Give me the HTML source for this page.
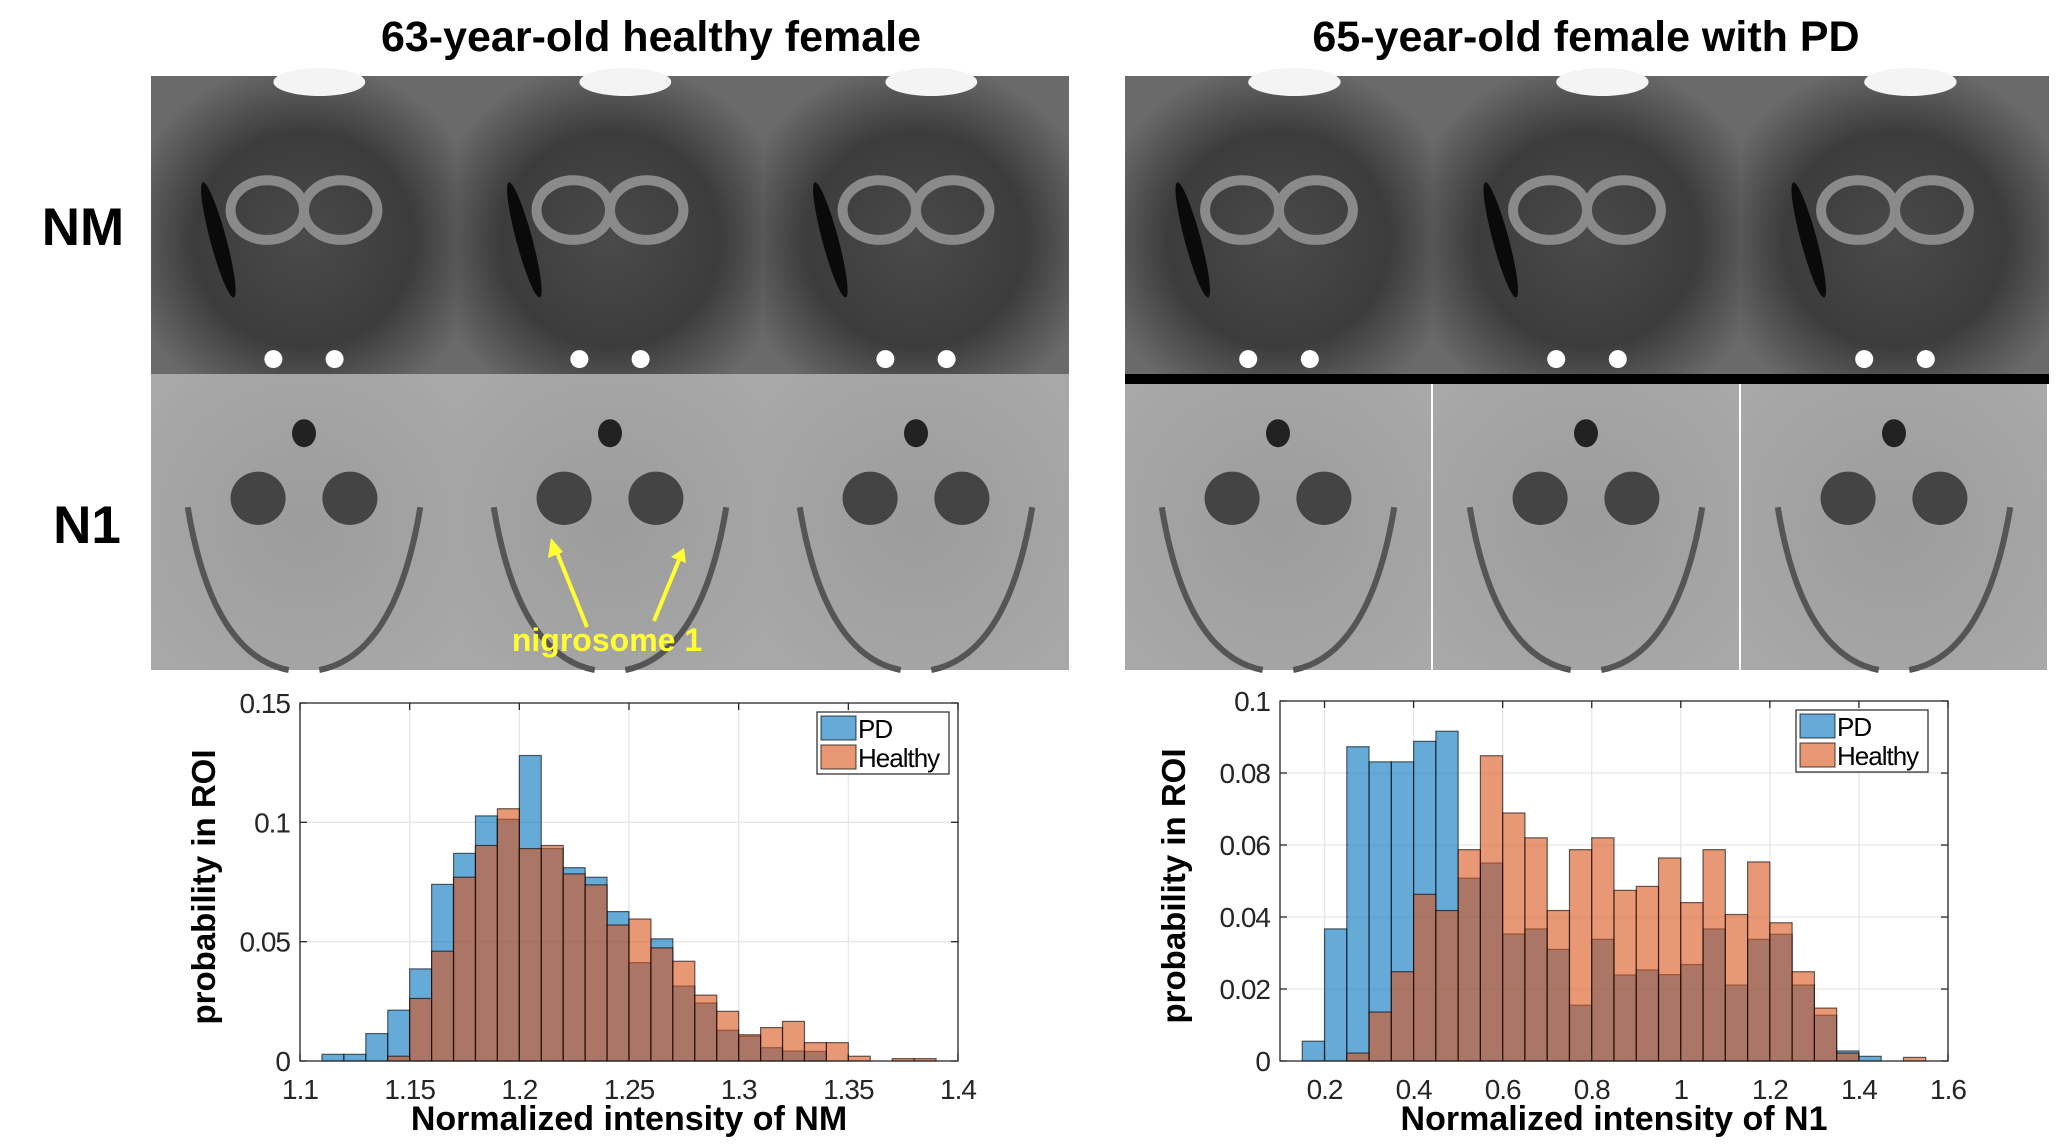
<!DOCTYPE html>
<html><head><meta charset="utf-8"><style>
html,body{margin:0;padding:0;background:#fff;}
svg{display:block;font-family:"Liberation Sans",sans-serif;}
.tick{font-size:28px;fill:#262626;letter-spacing:-1px;}
.title{font-size:43px;font-weight:bold;fill:#000;}
.ylab{font-size:33px;font-weight:bold;fill:#000;}
.xlab{font-size:34px;font-weight:bold;fill:#000;}
</style></head><body>
<svg id="fig" width="2072" height="1146" viewBox="0 0 2072 1146">
<defs>
<radialGradient id="nmg" cx="0.5" cy="0.55" r="0.6"><stop offset="0" stop-color="#4a4a4a"/><stop offset="0.6" stop-color="#3c3c3c"/><stop offset="1" stop-color="#6a6a6a"/></radialGradient>
<radialGradient id="n1g" cx="0.5" cy="0.5" r="0.65"><stop offset="0" stop-color="#9c9c9c"/><stop offset="1" stop-color="#a8a8a8"/></radialGradient>
</defs>
<text class="title" x="651" y="51" text-anchor="middle">63-year-old healthy female</text>
<text class="title" x="1586" y="51" text-anchor="middle">65-year-old female with PD</text>
<text x="83" y="245" text-anchor="middle" style="font-size:53px;font-weight:bold">NM</text>
<text x="87" y="543" text-anchor="middle" style="font-size:53px;font-weight:bold">N1</text>
<g id="imgs"></g>
<g id="anno">
<line x1="587" y1="627" x2="556" y2="550" stroke="#ffff33" stroke-width="4"/>
<polygon points="551,538 548,558 563,552" fill="#ffff33"/>
<line x1="654" y1="621" x2="679" y2="560" stroke="#ffff33" stroke-width="4"/>
<polygon points="684,548 671,557 686,563" fill="#ffff33"/>
<text x="607" y="651" text-anchor="middle" style="font-size:32px;font-weight:bold;fill:#ffff33">nigrosome 1</text>
</g>
<g id="chart1"></g>
<g id="chart2"></g>
</svg>
<script>
// ---- chart 1 data (NM) ----
const nmBinStart = 1.11;
const nmBinWidth = 0.01;
const nmPD = [0.0028,0.0028,0.0115,0.0213,0.0386,0.074,0.087,0.1027,0.1013,0.128,0.089,0.081,0.077,0.0626,0.0412,0.0512,0.0314,0.0243,0.0129,0.0104,0.0056,0.0042,0.004,0,0,0,0,0];
const nmHealthy = [0,0,0,0.002,0.0262,0.046,0.077,0.0903,0.1057,0.089,0.0903,0.0784,0.0738,0.057,0.0595,0.0474,0.0418,0.0276,0.0208,0.011,0.014,0.0166,0.0077,0.0077,0.002,0,0.001,0.001];
const nmXTicks = [1.1,1.15,1.2,1.25,1.3,1.35,1.4];
const nmXTickLabels = ["1.1","1.15","1.2","1.25","1.3","1.35","1.4"];
const nmYTicks = [0,0.05,0.1,0.15];
const nmYTickLabels = ["0","0.05","0.1","0.15"];
// ---- chart 2 data (N1) ----
const n1BinStart = 0.15;
const n1BinWidth = 0.05;
const n1PD = [0.0055,0.0367,0.0873,0.0831,0.0831,0.0888,0.0916,0.0508,0.055,0.0353,0.0367,0.031,0.0155,0.0338,0.0239,0.0253,0.024,0.0268,0.0367,0.0211,0.0338,0.0352,0.0211,0.0127,0.0028,0.0013,0,0];
const n1Healthy = [0,0,0.0022,0.0136,0.0248,0.0463,0.0418,0.0587,0.0848,0.0689,0.062,0.0418,0.0587,0.062,0.0474,0.0485,0.0564,0.044,0.0587,0.0407,0.0553,0.0384,0.0248,0.0147,0.0022,0,0,0.001];
const n1XTicks = [0.2,0.4,0.6,0.8,1,1.2,1.4,1.6];
const n1XTickLabels = ["0.2","0.4","0.6","0.8","1","1.2","1.4","1.6"];
const n1YTicks = [0,0.02,0.04,0.06,0.08,0.1];
const n1YTickLabels = ["0","0.02","0.04","0.06","0.08","0.1"];

const NS="http://www.w3.org/2000/svg";
function mk(tag,attrs,parent){const e=document.createElementNS(NS,tag);for(const k in attrs)e.setAttribute(k,attrs[k]);parent.appendChild(e);return e;}

function drawChart(g,o){
  const sx=v=>o.x0+(v-o.xmin)/(o.xmax-o.xmin)*(o.x1-o.x0);
  const sy=v=>o.y0-(v-o.ymin)/(o.ymax-o.ymin)*(o.y0-o.y1);
  mk('rect',{x:o.x0,y:o.y1,width:o.x1-o.x0,height:o.y0-o.y1,fill:'#fff'},g);
  o.xt.forEach((t,i)=>{
    const l=mk('line',{x1:sx(t),x2:sx(t),y1:o.y1,y2:o.y0,stroke:'#e6e6e6','stroke-width':1.3},g);
    
    
    const tx=mk('text',{x:sx(t),y:o.y0+38,'text-anchor':'middle',class:'tick'},g);tx.textContent=o.xl[i];
    
    
  });
  o.yt.forEach((t,i)=>{
    const l=mk('line',{x1:o.x0,x2:o.x1,y1:sy(t),y2:sy(t),stroke:'#e6e6e6','stroke-width':1.3},g);
    
    
    const tx=mk('text',{x:o.x0-10,y:sy(t)+10,'text-anchor':'end',class:'tick'},g);tx.textContent=o.yl[i];
    
    
  });
  const series=[[o.pd,'#0072BD','pd'],[o.h,'#D95319','healthy']];
  series.forEach(([vals,col,nm])=>{
    vals.forEach((v,i)=>{
      if(v<=0)return;
      const a=o.bs+i*o.bw;
      const r=mk('rect',{x:sx(a),y:sy(v),width:sx(a+o.bw)-sx(a),height:sy(0)-sy(v),fill:col,'fill-opacity':0.6,stroke:'#000','stroke-opacity':0.6,'stroke-width':1.2},g);
      
      
    });
  });
  mk('path',{d:`M${o.x0},${o.y1}H${o.x1}V${o.y0}H${o.x0}Z`,fill:'none',stroke:'#262626','stroke-width':1.3},g);
  o.xt.forEach(t=>{mk('line',{x1:sx(t),x2:sx(t),y1:o.y0,y2:o.y0-7,stroke:'#262626','stroke-width':1.3},g);mk('line',{x1:sx(t),x2:sx(t),y1:o.y1,y2:o.y1+7,stroke:'#262626','stroke-width':1.3},g);});
  o.yt.forEach(t=>{mk('line',{x1:o.x0,x2:o.x0+7,y1:sy(t),y2:sy(t),stroke:'#262626','stroke-width':1.3},g);mk('line',{x1:o.x1,x2:o.x1-7,y1:sy(t),y2:sy(t),stroke:'#262626','stroke-width':1.3},g);});
  const lg=mk('g',{},g);
  
  
  mk('rect',{x:o.lx,y:o.ly,width:132,height:62,fill:'#fff',stroke:'#262626','stroke-width':1.2},lg);
  [['PD','#0072BD',0],['Healthy','#D95319',1]].forEach(([lab,col,k])=>{
    const e=mk('g',{},lg);
    
    
    mk('rect',{x:o.lx+4,y:o.ly+4+k*29,width:35,height:24,fill:col,'fill-opacity':0.6,stroke:'#000','stroke-opacity':0.6,'stroke-width':1.2},e);
    const t=mk('text',{x:o.lx+41,y:o.ly+26+k*29,class:'tick',style:'fill:#000;font-size:26px'},e);t.textContent=lab;
  });
  const yl=mk('text',{x:0,y:0,class:'ylab','text-anchor':'middle',transform:`translate(${o.yx},${(o.y0+o.y1)/2+5}) rotate(-90)`},g);
  yl.textContent='probability in ROI';
  
  
  const xl=mk('text',{x:(o.x0+o.x1)/2,y:1130,class:'xlab','text-anchor':'middle'},g);
  xl.textContent=o.xlabel;
  
  
}
drawChart(document.getElementById('chart1'),{x0:300,x1:958,y0:1061,y1:703,xmin:1.1,xmax:1.4,ymin:0,ymax:0.15,
  xt:nmXTicks,xl:nmXTickLabels,yt:nmYTicks,yl:nmYTickLabels,pd:nmPD,h:nmHealthy,bs:nmBinStart,bw:nmBinWidth,
  lx:817,ly:712,yx:215,xlabel:'Normalized intensity of NM'});
drawChart(document.getElementById('chart2'),{x0:1280,x1:1948,y0:1061,y1:701,xmin:0.1,xmax:1.6,ymin:0,ymax:0.1,
  xt:n1XTicks,xl:n1XTickLabels,yt:n1YTicks,yl:n1YTickLabels,pd:n1PD,h:n1Healthy,bs:n1BinStart,bw:n1BinWidth,
  lx:1796,ly:710,yx:1185,xlabel:'Normalized intensity of N1'});

const ig=document.getElementById('imgs');
function panel(x,y,w,h,type){
  const g=mk('g',{},ig);
  
  
  if(type==='nm'){
    mk('rect',{x,y,width:w,height:h,fill:'url(#nmg)'},g);
    mk('ellipse',{cx:x+w*0.38,cy:y+h*0.45,rx:w*0.12,ry:h*0.1,fill:'none',stroke:'#8a8a8a','stroke-width':10},g);
    mk('ellipse',{cx:x+w*0.62,cy:y+h*0.45,rx:w*0.12,ry:h*0.1,fill:'none',stroke:'#8a8a8a','stroke-width':10},g);
    mk('ellipse',{cx:x+w*0.22,cy:y+h*0.55,rx:8,ry:h*0.2,fill:'#0a0a0a',transform:`rotate(-15 ${x+w*0.22} ${y+h*0.55})`},g);
    mk('ellipse',{cx:x+w*0.4,cy:y+h*0.95,rx:9,ry:9,fill:'#fff'},g);
    mk('ellipse',{cx:x+w*0.6,cy:y+h*0.95,rx:9,ry:9,fill:'#fff'},g);
    mk('ellipse',{cx:x+w*0.55,cy:y+h*0.02,rx:w*0.15,ry:14,fill:'#f4f4f4'},g);
  } else {
    mk('rect',{x,y,width:w,height:h,fill:'url(#n1g)'},g);
    mk('ellipse',{cx:x+w*0.35,cy:y+h*0.42,rx:w*0.09,ry:h*0.09,fill:'#444'},g);
    mk('ellipse',{cx:x+w*0.65,cy:y+h*0.42,rx:w*0.09,ry:h*0.09,fill:'#444'},g);
    mk('ellipse',{cx:x+w*0.5,cy:y+h*0.2,rx:12,ry:14,fill:'#222'},g);
    mk('path',{d:`M${x+w*0.12},${y+h*0.45} Q${x+w*0.2},${y+h*0.95} ${x+w*0.45},${y+h}`,fill:'none',stroke:'#555','stroke-width':6},g);
    mk('path',{d:`M${x+w*0.88},${y+h*0.45} Q${x+w*0.8},${y+h*0.95} ${x+w*0.55},${y+h}`,fill:'none',stroke:'#555','stroke-width':6},g);
  }
}
[151,457,763].forEach(x=>{panel(x,76,306,298,'nm');panel(x,374,306,296,'n1');});
[1125,1433,1741].forEach(x=>{panel(x,76,308,298,'nm');panel(x,374,306,296,'n1');});
mk('rect',{x:1125,y:374,width:924,height:10,fill:'#000'},ig);
</script>
</body></html>
